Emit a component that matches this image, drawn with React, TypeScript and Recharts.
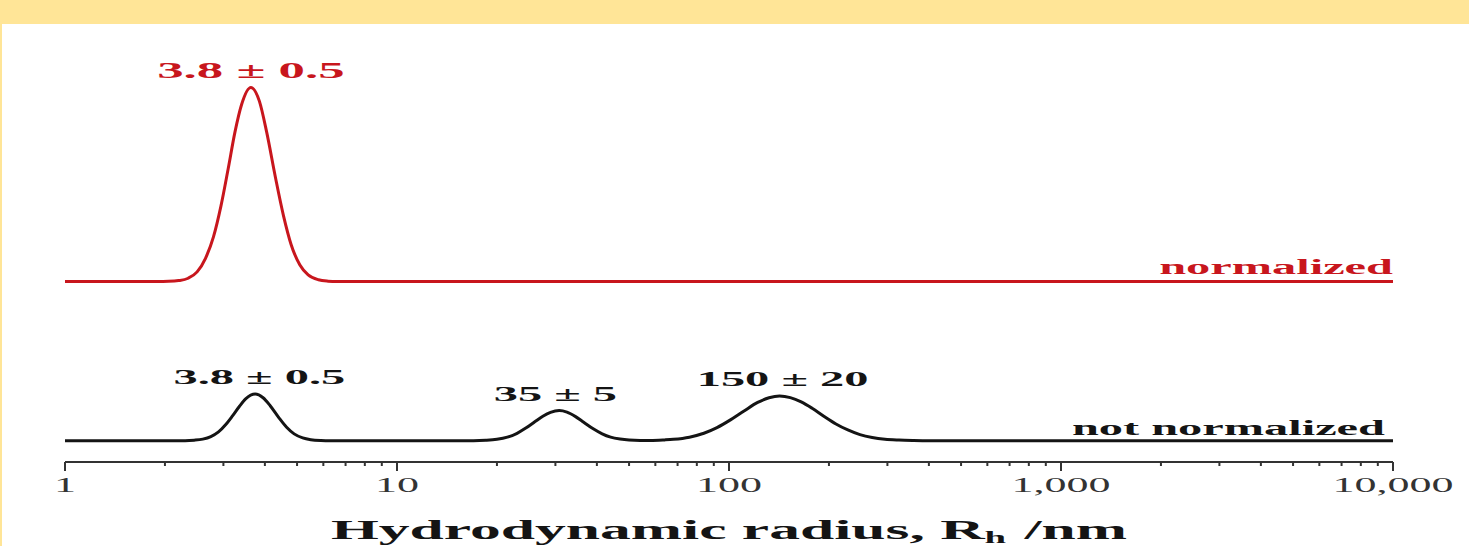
import React from "react";
import { LineChart, Line, XAxis, YAxis, ReferenceDot } from "recharts";

// ---------- data ----------
const MAJOR_TICKS = [1, 10, 100, 1000, 10000];
const TICK_LABELS = ["1", "10", "100", "1,000", "10,000"];
const MINOR_MULTIPLIERS = [2, 3, 4, 5, 6, 7, 8, 9];

// normalized distribution (red), relative intensity 0-100
const RED_X = [
  1, 1.9, 2.05, 2.2, 2.35, 2.5, 2.65, 2.8, 2.95, 3.1, 3.25, 3.4, 3.63,
  3.85, 4.05, 4.3, 4.55, 4.8, 5.1, 5.4, 5.8, 6.2, 6.6, 10000,
];
const RED_Y = [
  0, 0, 0.1, 0.5, 1.7, 5, 12, 23, 39, 58, 77, 91, 100,
  93, 77, 54, 34, 19, 8.5, 3.4, 0.9, 0.2, 0, 0,
];
const NORMALIZED_OFFSET = 82;

// not normalized distribution (black)
const BLACK_X = [
  1, 2.3, 2.45, 2.6, 2.75, 2.9, 3.05, 3.2, 3.35, 3.5, 3.74, 3.95, 4.15, 4.4, 4.65, 4.9, 5.2, 5.5, 5.9, 6.3,
  17, 18.5, 20, 21.5, 23, 24.5, 26, 27.5, 29, 30.8, 32.5, 34.5, 36.5, 39, 41.5, 44, 47, 50, 54, 58,
  64, 68, 76, 84, 92, 101, 111, 122, 132, 142, 153, 165, 178, 193, 210, 228, 248, 270, 295, 325, 360, 400,
  10000,
];
const BLACK_Y = [
  0, 0, 0.24, 0.8, 2.1, 4.5, 8.3, 12.9, 17.6, 21.5, 24, 22.1, 18, 12, 6.9, 3.5, 1.4, 0.5, 0.1, 0,
  0, 0.2, 0.7, 1.8, 3.8, 6.6, 9.7, 12.6, 14.6, 15.5, 14.7, 12.4, 9.5, 6.1, 3.5, 1.8, 0.8, 0.3, 0.1, 0.1,
  0.4, 0.7, 1.8, 3.8, 6.7, 10.7, 15.3, 19.7, 22.1, 23, 22.2, 20.0, 16.7, 12.6, 8.6, 5.5, 3.1, 1.6, 0.7, 0.3, 0.1, 0,
  0,
];

// peak annotations
const PEAK_TEXTS = ["3.8 \u00b1 0.5", "3.8 \u00b1 0.5", "35 \u00b1 5", "150 \u00b1 20"];
const PEAK_X = [3.63, 3.85, 30, 145];
const PEAK_Y = [182, 24, 15.5, 23];
const PEAK_SERIES = ["normalized", "not", "not", "not"];

const SERIES_NAMES = ["normalized", "not normalized"];

// ---------- styles ----------
const FONT = "'Liberation Serif', 'Times New Roman', serif";
const STRETCH = 2.2;
const TITLE_STRETCH = 2.28;
const RED = "#c8161d";
const BLACK = "#141414";
const AXIS = "#333333";

const redData = RED_X.map((x, i) => ({ x, y: RED_Y[i] + NORMALIZED_OFFSET }));
const blackData = BLACK_X.map((x, i) => ({ x, y: BLACK_Y[i] }));
const ALL_TICKS: number[] = [];
MAJOR_TICKS.forEach((m, i) => {
  ALL_TICKS.push(m);
  if (i < MAJOR_TICKS.length - 1) MINOR_MULTIPLIERS.forEach((k) => ALL_TICKS.push(m * k));
});

function SText(props: any) {
  const { x, y, children, anchor = "middle", size = 22, weight = "bold", fill = BLACK } = props;
  return (
    <text
      transform={`translate(${x},${y}) scale(${STRETCH},1)`}
      textAnchor={anchor}
      fontFamily={FONT}
      fontSize={size}
      fontWeight={weight}
      fill={fill}
    >
      {children}
    </text>
  );
}

function AxisTick(props: any) {
  const { x, y, payload } = props;
  const v = payload ? payload.value : 0;
  const idx = MAJOR_TICKS.findIndex((m) => Math.abs(m - v) < 1e-9 * m);
  const major = idx >= 0;
  return (
    <g>
      <line x1={x} x2={x} y1={y} y2={y + (major ? 9 : 4)} stroke={AXIS} strokeWidth={2} />
      {major && (
        <SText x={x} y={y + 30} size={20} weight="normal" fill={AXIS}>
          {TICK_LABELS[idx]}
        </SText>
      )}
    </g>
  );
}

const peakLabel = (text: string, color: string, size: number) => (p: any) => {
  const vb = p && p.viewBox;
  if (!vb) return null;
  const cx = vb.x + (vb.width || 0) / 2;
  const cy = vb.y + (vb.height || 0) / 2;
  return (
    <SText x={cx} y={cy - 10} size={size} fill={color}>
      {text}
    </SText>
  );
};

const endLabel = (text: string, color: string, dx: number, dy: number) => (p: any) => {
  const vb = p && p.viewBox;
  if (!vb) return null;
  const cx = vb.x + (vb.width || 0) / 2;
  const cy = vb.y + (vb.height || 0) / 2;
  return (
    <SText x={cx + dx} y={cy + dy} anchor="end" size={22} fill={color}>
      {text}
    </SText>
  );
};

const axisTitle = (p: any) => {
  const vb = p && p.viewBox;
  if (!vb) return null;
  const cx = vb.x + vb.width / 2;
  return (
    <text
      transform={`translate(${cx},${vb.y + 77}) scale(${TITLE_STRETCH},1)`}
      textAnchor="middle"
      fontFamily={FONT}
      fontSize={27}
      fontWeight="bold"
      fill={BLACK}
    >
      Hydrodynamic radius, R
      <tspan fontSize={17} dy={4}>h</tspan>
      <tspan dy={-4} dx={8}>/nm</tspan>
    </text>
  );
};

export default function App() {
  return (
    <div
      style={{
        position: "absolute",
        left: 0,
        top: 0,
        width: 1469,
        height: 546,
        background: "#ffffff",
        overflow: "hidden",
      }}
    >
      <div style={{ position: "absolute", left: 0, top: 0, width: 1469, height: 24, background: "#ffe597" }} />
      <div style={{ position: "absolute", left: 0, top: 0, width: 2, height: 546, background: "#ffe597" }} />
      <div style={{ position: "absolute", left: 0, top: 0 }}>
        <LineChart width={1469} height={546} margin={{ top: 72, right: 76, bottom: 24, left: 65 }}>
          <XAxis
            dataKey="x"
            type="number"
            scale="log"
            domain={[1, 10000]}
            allowDataOverflow
            ticks={ALL_TICKS}
            interval={0}
            tickSize={0}
            tickMargin={0}
            height={60}
            axisLine={{ stroke: AXIS, strokeWidth: 2 }}
            tickLine={false}
            tick={<AxisTick />}
            label={axisTitle}
          />
          <YAxis type="number" domain={[-11, 190]} hide allowDataOverflow />
          <Line
            data={redData}
            dataKey="y"
            name={SERIES_NAMES[0]}
            type="monotone"
            stroke={RED}
            strokeWidth={3}
            dot={false}
            isAnimationActive={false}
          />
          <Line
            data={blackData}
            dataKey="y"
            name={SERIES_NAMES[1]}
            type="monotone"
            stroke={BLACK}
            strokeWidth={3}
            dot={false}
            isAnimationActive={false}
          />
          {PEAK_TEXTS.map((t, i) => (
            <ReferenceDot
              key={"pk" + i}
              x={PEAK_X[i]}
              y={PEAK_Y[i]}
              r={0}
              fill="none"
              stroke="none"
              label={peakLabel(t, PEAK_SERIES[i] === "normalized" ? RED : BLACK, PEAK_SERIES[i] === "normalized" ? 24 : 22)}
            />
          ))}
          <ReferenceDot x={10000} y={NORMALIZED_OFFSET} r={0} fill="none" stroke="none" label={endLabel(SERIES_NAMES[0], RED, 0, -8)} />
          <ReferenceDot x={10000} y={0} r={0} fill="none" stroke="none" label={endLabel(SERIES_NAMES[1], BLACK, -8, -6)} />
        </LineChart>
      </div>
    </div>
  );
}
